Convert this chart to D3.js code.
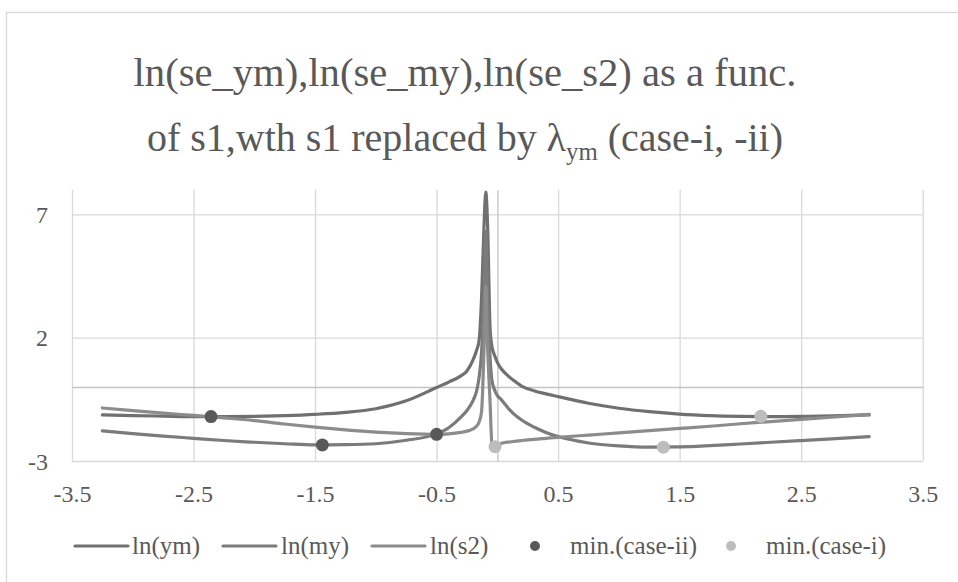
<!DOCTYPE html>
<html><head><meta charset="utf-8">
<script src="https://cdn.jsdelivr.net/npm/d3@7"></script>
<style>body{margin:0;background:#fff}svg{display:block}</style>
</head><body>
<svg id="c" width="958" height="582"></svg>
<script>
// ---- data ----
const s1 = [-3.25,-3.0,-2.75,-2.5,-2.25,-2.0,-1.75,-1.5,-1.25,-1.0,-0.75,-0.5,-0.4,-0.3,-0.25,-0.2,-0.17,-0.15,-0.13,-0.11,-0.095,-0.08,-0.06,-0.045,-0.02,0,0.03,0.06,0.1,0.13,0.2,0.3,0.4,0.5,0.75,1.0,1.25,1.5,1.75,2.0,2.25,2.5,2.75,3.06];
const lnYm = [-1.13,-1.16,-1.18,-1.20,-1.20,-1.19,-1.16,-1.11,-1.03,-0.88,-0.56,-0.02,0.2,0.45,0.65,1.1,1.5,1.9,3.6,6.5,7.9,6.5,2.4,1.65,1.25,1.0,0.75,0.58,0.4,0.28,0.04,-0.15,-0.28,-0.39,-0.66,-0.86,-1.0,-1.1,-1.16,-1.19,-1.20,-1.19,-1.17,-1.13];
const lnMy = [-1.78,-1.89,-1.99,-2.08,-2.17,-2.24,-2.30,-2.35,-2.34,-2.30,-2.16,-1.90,-1.65,-1.22,-0.95,-0.55,-0.15,0.4,1.4,3.6,6.3,3.6,1.2,0.28,-0.15,-0.35,-0.5,-0.68,-0.92,-1.07,-1.34,-1.62,-1.84,-2.01,-2.27,-2.39,-2.44,-2.43,-2.38,-2.31,-2.24,-2.17,-2.10,-2.01];
const lnS2 = [-0.85,-0.96,-1.06,-1.15,-1.25,-1.36,-1.50,-1.63,-1.74,-1.83,-1.89,-1.92,-1.90,-1.84,-1.79,-1.70,-1.58,-1.42,-1.0,1.5,4.1,1.6,-0.6,-2.28,-2.42,-2.36,-2.29,-2.25,-2.23,-2.21,-2.17,-2.12,-2.08,-2.04,-1.95,-1.86,-1.77,-1.68,-1.59,-1.49,-1.40,-1.31,-1.22,-1.11];
const minCaseIIx = [-2.356,-1.44,-0.5];
const minCaseIIy = [-1.20,-2.35,-1.92];
const minCaseIx = [2.168,1.366,-0.019];
const minCaseIy = [-1.19,-2.44,-2.42];
const xTicks = [-3.5,-2.5,-1.5,-0.5,0.5,1.5,2.5,3.5];
const yTicks = [-3,2,7];
const seriesNames = ["ln(ym)","ln(my)","ln(s2)","min.(case-ii)","min.(case-i)"];
const titleLine1 = "ln(se_ym),ln(se_my),ln(se_s2) as a func.";
const titleLine2 = ["of s1,wth s1 replaced by λ","ym"," (case-i, -ii)"];

// ---- styles ----
const FONT = "'Liberation Serif','Times New Roman',serif";
const TXT = "#595959";
const lineColors = ["#707070","#7b7b7b","#8c8c8c"];
const dotColors = ["#595959","#bdbdbd"];

const svg = d3.select("#c");
svg.append("rect").attr("x",6.5).attr("y",12.5).attr("width",1200).attr("height",1200)
  .attr("fill","#fff").attr("stroke","#d9d9d9").attr("stroke-width",1.3);

const x = d3.scaleLinear().domain([-3.5,3.5]).range([72,922.7]);
const y = d3.scaleLinear().domain([-3,8]).range([461,189.7]);

// gridlines
const gx = svg.append("g").attr("transform",`translate(0,${y(-3)})`)
  .call(d3.axisBottom(x).tickValues(xTicks).tickSize(-(y(-3)-y(8))).tickFormat(""));
gx.select(".domain").remove();
gx.selectAll("line").attr("stroke","#d9d9d9").attr("stroke-width",1.3);
const gy = svg.append("g").attr("transform",`translate(${x(-3.5)},0)`)
  .call(d3.axisLeft(y).tickValues(yTicks).tickSize(-(x(3.5)-x(-3.5))).tickFormat(""));
gy.select(".domain").remove();
gy.selectAll("line").attr("stroke","#d9d9d9").attr("stroke-width",1.3);

// axis lines crossing at zero
const ax0 = svg.append("g").attr("transform",`translate(0,${y(0)})`)
  .call(d3.axisBottom(x).tickValues([]).tickSizeOuter(0));
ax0.select(".domain").attr("stroke","#c4c4c4").attr("stroke-width",1.3);
const ay0 = svg.append("g").attr("transform",`translate(${x(0)},0)`)
  .call(d3.axisLeft(y).tickValues([]).tickSizeOuter(0));
ay0.select(".domain").attr("stroke","#c4c4c4").attr("stroke-width",1.3);

// tick labels
const xl = svg.append("g").attr("transform",`translate(0,${y(-3)})`)
  .call(d3.axisBottom(x).tickValues(xTicks).tickSize(0).tickFormat(d=>String(d)));
xl.select(".domain").remove();
xl.selectAll("text").attr("y",33).attr("dy","0.34em")
  .attr("font-family",FONT).attr("font-size",24).attr("fill",TXT);
const yl = svg.append("g").attr("transform",`translate(${x(-3.5)},0)`)
  .call(d3.axisLeft(y).tickValues(yTicks).tickSize(0).tickFormat(d=>String(d)));
yl.select(".domain").remove();
yl.selectAll("text").attr("x",-24).attr("dy","0.34em")
  .attr("font-family",FONT).attr("font-size",24).attr("fill",TXT);

// lines
const line = d3.line().x(d=>x(d[0])).y(d=>y(d[1])).curve(d3.curveMonotoneX);
[lnYm,lnMy,lnS2].forEach((vals,i)=>{
  svg.append("path").datum(s1.map((s,j)=>[s,vals[j]]))
    .attr("d",line).attr("fill","none").attr("stroke",lineColors[i])
    .attr("stroke-width",3.2).attr("stroke-linecap","round").attr("stroke-linejoin","round");
});

// markers
[[minCaseIIx,minCaseIIy],[minCaseIx,minCaseIy]].forEach(([xs,ys],i)=>{
  svg.append("g").selectAll("circle").data(xs.map((v,j)=>[v,ys[j]])).join("circle")
    .attr("cx",d=>x(d[0])).attr("cy",d=>y(d[1])).attr("r",6.5).attr("fill",dotColors[i]);
});

// title
function fitSize(build, target){
  let F = 32; let t = build(F); const w = t.node().getComputedTextLength(); t.remove();
  F = F*target/w; return build(F);
}
fitSize(F=>svg.append("text").attr("x",465).attr("y",86).attr("text-anchor","middle")
  .attr("font-family",FONT).attr("font-size",F).attr("fill",TXT).text(titleLine1), 663);
fitSize(F=>{
  const t = svg.append("text").attr("x",465).attr("y",151).attr("text-anchor","middle")
    .attr("font-family",FONT).attr("font-size",F).attr("fill",TXT);
  t.append("tspan").text(titleLine2[0]);
  t.append("tspan").attr("font-size",F*0.62).attr("dy",F*0.22).text(titleLine2[1]);
  t.append("tspan").attr("dy",-F*0.22).text(titleLine2[2]);
  return t;
}, 636);

// legend
const LY = 546;
const legX = [75,223,372,535,731];
const legTextX = [132,281,430,570,766];
const lg = svg.append("g");
[0,1,2].forEach(i=>{
  lg.append("line").attr("x1",legX[i]).attr("x2",legX[i]+53).attr("y1",LY).attr("y2",LY)
    .attr("stroke",lineColors[i]).attr("stroke-width",3.2).attr("stroke-linecap","round");
});
[3,4].forEach((i,k)=>{
  lg.append("circle").attr("cx",legX[i]).attr("cy",LY).attr("r",5).attr("fill",dotColors[k]);
});
seriesNames.forEach((n,i)=>{
  lg.append("text").attr("x",legTextX[i]).attr("y",LY).attr("dy","0.3em")
    .attr("font-family",FONT).attr("font-size",25).attr("fill",TXT).text(n);
});
</script>
</body></html>
